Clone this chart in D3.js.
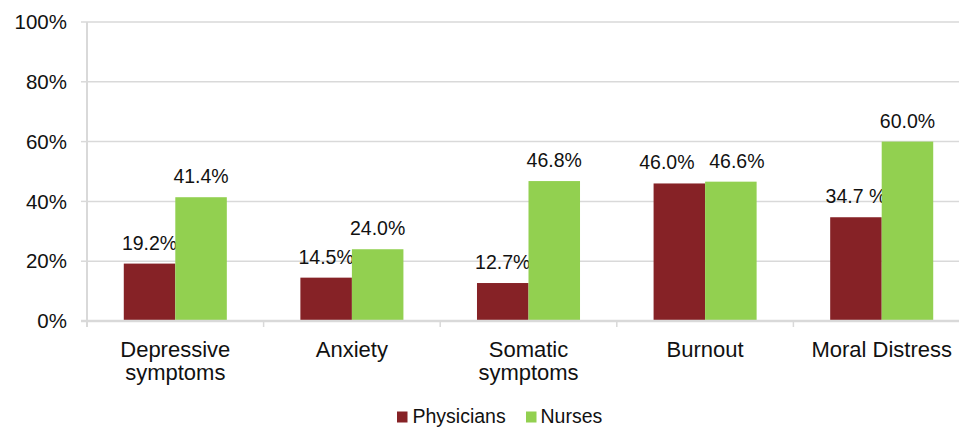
<!DOCTYPE html>
<html><head><meta charset="utf-8">
<script src="https://cdn.jsdelivr.net/npm/d3@7/dist/d3.min.js"></script>
<style>body{margin:0;background:#fff}svg{display:block;font-family:"Liberation Sans",Arial,sans-serif}</style>
</head><body><svg id="c" width="959" height="428"></svg>
<script>
const categories = [["Depressive","symptoms"],["Anxiety"],["Somatic","symptoms"],["Burnout"],["Moral Distress"]];
const seriesNames = ["Physicians","Nurses"];
const physicians = [19.2,14.5,12.7,46.0,34.7];
const nurses = [41.4,24.0,46.8,46.6,60.0];
const physLabels = ["19.2%","14.5%","12.7%","46.0%","34.7 %"];
const nurseLabels = ["41.4%","24.0%","46.8%","46.6%","60.0%"];
const yTicks = [0,20,40,60,80,100];
const colors = ["#862226","#92d050"];

const svg = d3.select("#c");
const mLeft = 87, mTop = 22, mBottom = 321, catW = 176.6;
const mRight = mLeft + catW*5;
const x = d3.scaleBand().domain(d3.range(5)).range([mLeft,mRight]).paddingInner(0).paddingOuter(0);
const inner = d3.scaleBand().domain([0,1]).range([0,x.bandwidth()]).paddingInner(0).paddingOuter(0.714);
const y = d3.scaleLinear().domain([0,100]).range([mBottom,mTop]);
const grid = "#d9d9d9";
// manual label nudges (Burnout labels were moved apart in the original)
const labelShift = [[0,0,0,-12.5,0],[0,0,0,6,0]];

// gridlines
svg.append("g").selectAll("line").data(yTicks.slice(1)).join("line")
  .attr("x1",mLeft).attr("x2",mRight).attr("y1",d=>y(d)).attr("y2",d=>y(d))
  .attr("stroke",grid).attr("stroke-width",1.5);
// y ticks
svg.append("g").selectAll("line").data(yTicks).join("line")
  .attr("x1",mLeft-6).attr("x2",mLeft).attr("y1",d=>y(d)).attr("y2",d=>y(d))
  .attr("stroke",grid).attr("stroke-width",1.5);
svg.append("g").selectAll("text").data(yTicks).join("text")
  .attr("x",67).attr("y",d=>y(d)).attr("dy","0.35em").attr("text-anchor","end")
  .attr("font-size",20.5).attr("fill","#111").text(d=>d+"%");

// bars
const data = [physicians,nurses];
const labs = [physLabels,nurseLabels];
const g = svg.append("g");
data.forEach((arr,si)=>{
  g.selectAll(".b"+si).data(arr).join("rect").attr("class","b"+si)
    .attr("x",(d,i)=>x(i)+inner(si)).attr("width",inner.bandwidth())
    .attr("y",d=>y(d)).attr("height",d=>mBottom-y(d)).attr("fill",colors[si]);
  g.selectAll(".l"+si).data(arr).join("text").attr("class","l"+si)
    .attr("x",(d,i)=>x(i)+inner(si)+inner.bandwidth()/2+labelShift[si][i]).attr("y",d=>y(d)-14)
    .attr("text-anchor","middle").attr("font-size",19.5).attr("fill","#111")
    .text((d,i)=>labs[si][i]);
});

// axes lines
svg.append("line").attr("x1",mLeft).attr("x2",mLeft).attr("y1",mTop).attr("y2",mBottom+6)
  .attr("stroke",grid).attr("stroke-width",2);
svg.append("line").attr("x1",mLeft-6).attr("x2",mRight).attr("y1",mBottom).attr("y2",mBottom)
  .attr("stroke",grid).attr("stroke-width",2.5);
svg.append("g").selectAll("line").data(d3.range(6)).join("line")
  .attr("x1",i=>mLeft+i*catW).attr("x2",i=>mLeft+i*catW).attr("y1",mBottom).attr("y2",mBottom+6)
  .attr("stroke",grid).attr("stroke-width",1.5);

// category labels
const cl = svg.append("g").selectAll("text").data(categories).join("text")
  .attr("text-anchor","middle").attr("font-size",22).attr("fill","#111");
cl.each(function(lines,i){
  const t = d3.select(this);
  lines.forEach((ln,k)=>{
    t.append("tspan").attr("x",x(i)+x.bandwidth()/2).attr("y",356.5+k*23.5).text(ln);
  });
});

// legend
const leg = [[397,412.5],[526,540.5]];
seriesNames.forEach((n,i)=>{
  svg.append("rect").attr("x",leg[i][0]).attr("y",411.5).attr("width",10.5).attr("height",11).attr("fill",colors[i]);
  svg.append("text").attr("x",leg[i][1]).attr("y",422.5).attr("font-size",19.5).attr("fill","#111").text(n);
});
</script></body></html>
